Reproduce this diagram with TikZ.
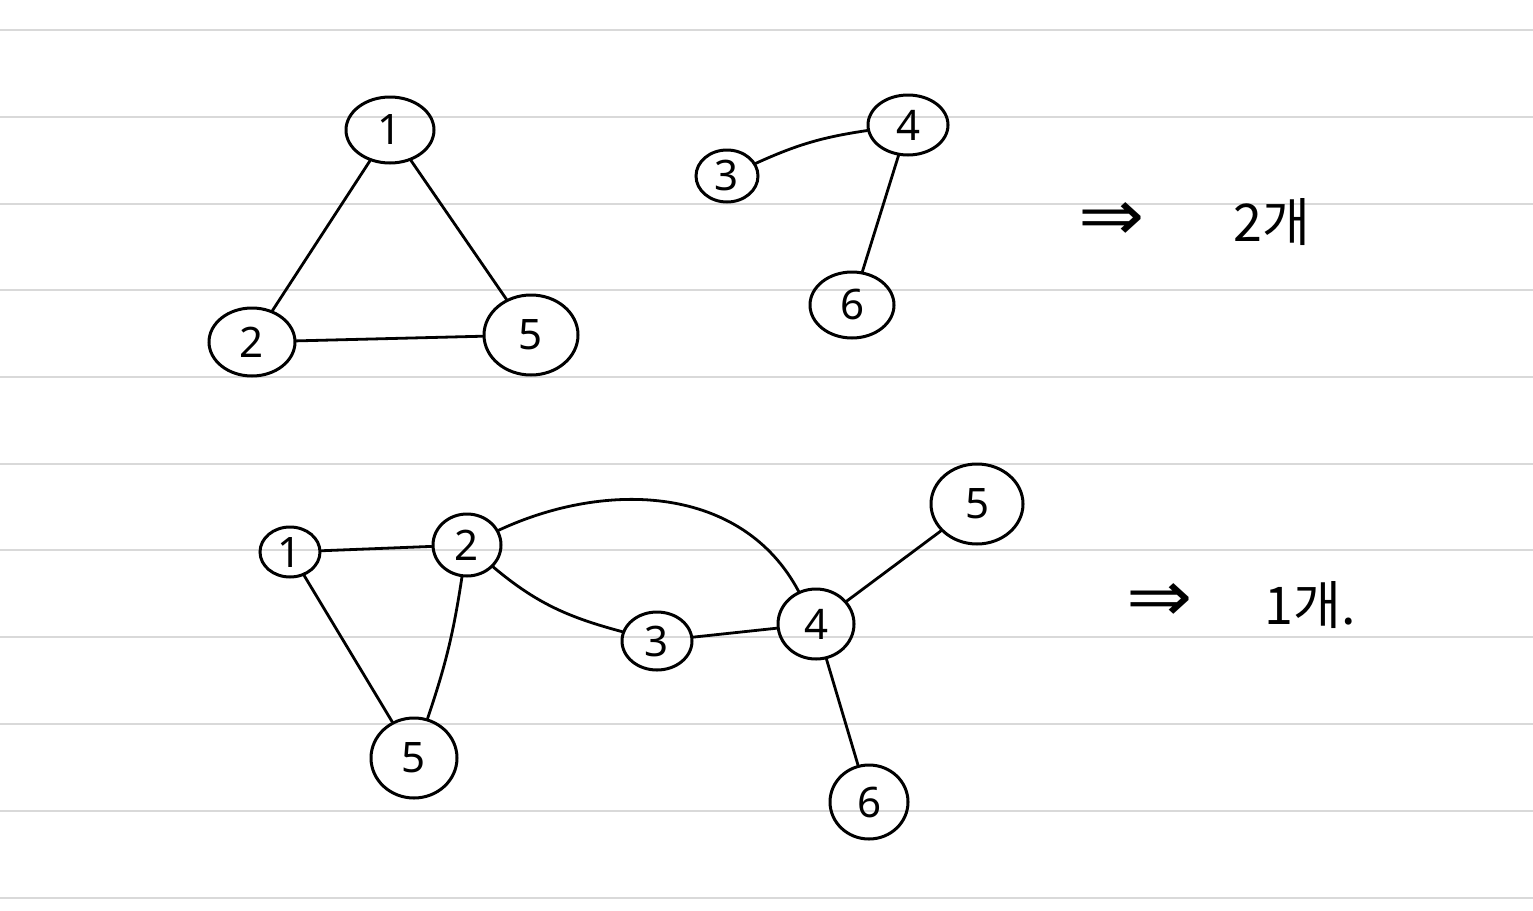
\documentclass[tikz,border=0pt]{standalone}
\usepackage{fontspec}
\setmainfont{Noto Sans}
\newfontfamily\krfont{Noto Sans CJK KR}
\newfontfamily\arrfont{DejaVu Sans}
\usetikzlibrary{shapes.geometric}
\begin{document}
\begin{tikzpicture}[x=1pt,y=-1pt,
  rule/.style={draw=black!15,line width=2pt},
  vtx/.style={ellipse,draw=black,line width=3pt,inner sep=0pt,font=\fontsize{42}{42}\selectfont},
  edge/.style={draw=black,line width=2.8pt,line cap=round},
  note/.style={font=\krfont\fontsize{52}{52}\selectfont,inner sep=0pt},
  arr/.style={font=\arrfont\fontsize{72}{72}\selectfont,inner sep=0pt,xscale=1.1}]
\useasboundingbox (0,0) rectangle (1533,910);
\fill[white] (0,0) rectangle (1533,910);
\foreach \y in {30,117,204,290,377,464,550,637,724,811,898}
  \draw[rule] (0,\y) -- (1533,\y);
% top-left triangle
\node[vtx,minimum width=88,minimum height=66] (a1) at (390,130) {1};
\node[vtx,minimum width=86,minimum height=68] (a2) at (252,342) {2};
\node[vtx,minimum width=94,minimum height=80] (a5) at (531,335) {5};
\draw[edge] (a1) -- (a2);
\draw[edge] (a1) -- (a5);
\draw[edge] (a2) -- (a5);
% top-middle
\node[vtx,minimum width=80,minimum height=60] (b4) at (908,125) {4};
\node[vtx,minimum width=62,minimum height=52] (b3) at (727,176) {3};
\node[vtx,minimum width=84,minimum height=66] (b6) at (852,305) {6};
\draw[edge] (b3) to[bend left=8] (b4);
\draw[edge] (b4) -- (b6);
\node[arr] (t1a) at (1112,222) {⇒};
\node[note] (t1b) at (1272,222) {2개};
% bottom
\node[vtx,minimum width=60,minimum height=50] (c1) at (290,552) {1};
\node[vtx,minimum width=68,minimum height=62] (c2) at (467,545) {2};
\node[vtx,minimum width=86,minimum height=80] (c5) at (414,758) {5};
\node[vtx,minimum width=70,minimum height=58] (c3) at (657,641) {3};
\node[vtx,minimum width=76,minimum height=70] (c4) at (816,624) {4};
\node[vtx,minimum width=92,minimum height=80] (c5r) at (977,504) {5};
\node[vtx,minimum width=78,minimum height=74] (c6) at (869,802) {6};
\draw[edge] (c1) -- (c2);
\draw[edge] (c1) -- (c5);
\draw[edge] (c2) to[bend left=5] (c5);
\draw[edge] (c2) to[out=-40,in=165] (c3);
\draw[edge] (c2) to[out=25,in=118] (c4);
\draw[edge] (c3) -- (c4);
\draw[edge] (c4) -- (c5r);
\draw[edge] (c4) -- (c6);
\node[arr] (t2a) at (1160,603) {⇒};
\node[note] (t2b) at (1310,605) {1개.};
\end{tikzpicture}
\end{document}
